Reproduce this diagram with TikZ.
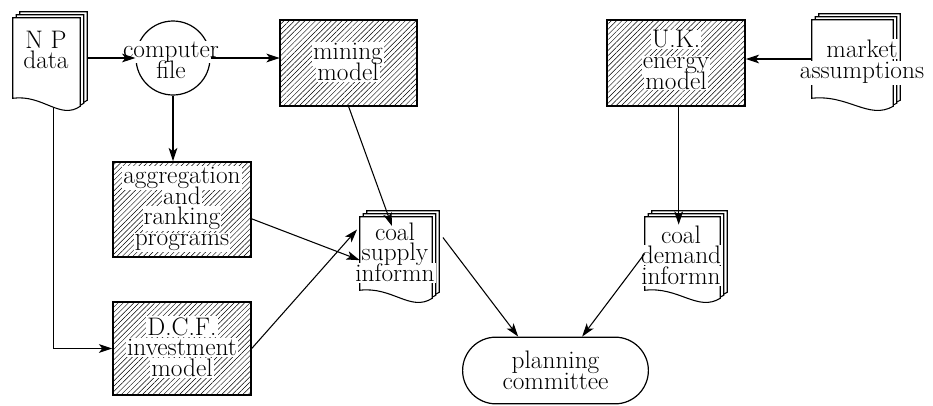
\documentclass[tikz,border=0pt]{standalone}
\usepackage{fontspec}
\usetikzlibrary{arrows.meta,patterns.meta,shapes.misc,calc}

\setlength{\fboxsep}{0.8pt}
\setlength{\lineskiplimit}{-30pt}
\newcommand{\wlbox}[1]{\colorbox{white}{\phantom{#1}}}
\newcommand{\wlplain}[1]{#1}
\newcommand{\wl}[1]{#1}
% text lines set on white strips: strips first, then the letters
\newcommand{\backedtext}[3]{%
  \global\let\wl\wlbox
  \node[inner sep=0pt] (#1bg) at #2 {#3};
  \global\let\wl\wlplain
  \node[inner sep=0pt] (#1) at #2 {#3};
}

% three sheets of a document, drawn round an empty frame node
\newcommand{\docstack}[1]{%
  \foreach \dx/\dy in {7/6,3.5/3,0/0}{%
    \draw[line width=0.8pt, fill=white, transform canvas={shift={(\dx,\dy)}}]
      (#1.south west) -- (#1.north west) -- (#1.north east) -- ($(#1.south east)+(0,8)$)
      .. controls ($(#1.south west)!0.7!(#1.south east)+(0,22)$) and ($(#1.south west)!0.45!(#1.south east)+(0,-4)$) .. (#1.south west) -- cycle;
  }%
}

\tikzset{
  every node/.style={font=\fontsize{19}{15.5}\selectfont, align=center},
  hatchbox/.style={draw, line width=1.1pt, inner sep=0pt,
    pattern={Lines[angle=45,distance=2.8pt,line width=0.35pt]}},
  docframe/.style={draw=none, inner sep=0pt},
  flowarrow/.style={line width=0.8pt, -{Stealth[length=10pt,width=6.5pt,inset=2.5pt]}}
}

\begin{document}
\begin{tikzpicture}[x=0.75pt,y=0.75pt,yscale=-1,xscale=1]
\useasboundingbox (0,0) rectangle (933,405);

% hatched program boxes
\node[hatchbox, minimum width=102.75pt, minimum height=64.5pt] (mining) at (348.5,63) {};
\node[hatchbox, minimum width=103.5pt, minimum height=64.5pt] (uk) at (676,63) {};
\node[hatchbox, minimum width=103.5pt, minimum height=71.25pt] (aggr) at (182,209.5) {};
\node[hatchbox, minimum width=103.5pt, minimum height=69.75pt] (dcf) at (182,348.5) {};
\backedtext{miningtext}{(348,62)}{\wl{mining}\\\wl{model}}
\backedtext{uktext}{(676,60)}{\wl{U.K.}\\\wl{energy}\\\wl{model}}
\backedtext{aggrtext}{(182,209)}{\wl{aggregation}\\\wl{and}\\\wl{ranking}\\\wl{programs}}
\backedtext{dcftext}{(182,347)}{\wl{D.C.F.}\\\wl{investment}\\\wl{model}}

% computer file and committee
\node[draw, circle, line width=0.9pt, minimum size=55.5pt] (cfile) at (173,58) {};
\backedtext{cfiletext}{(171,60)}{\wl{computer}\\\wl{file}}
\node[draw, rounded rectangle, line width=0.9pt, minimum width=146pt, minimum height=50pt] (plan) at (555.5,370.5) {planning\\committee};

% document frames
\node[docframe, minimum width=50.25pt, minimum height=60pt] (np) at (46.5,58) {};
\node[docframe, minimum width=54pt, minimum height=54.75pt] (supply) at (396,253.5) {};
\node[docframe, minimum width=56.25pt, minimum height=54.75pt] (demand) at (682.5,253.5) {};
\node[docframe, minimum width=60.75pt, minimum height=58.5pt] (market) at (852.5,59) {};

\draw[flowarrow, line width=0.7pt] (np.south) ++(7,0) |- (dcf.west);

\docstack{np}
\docstack{supply}
\docstack{demand}
\docstack{market}

\backedtext{nptext}{(46,50)}{\wl{N P}\\\wl{data}}
\backedtext{supplytext}{(395,252)}{\wl{coal}\\\wl{supply}\\\wl{informn}}
\backedtext{demandtext}{(681,255)}{\wl{coal}\\\wl{demand}\\\wl{informn}}
\backedtext{markettext}{(862,62)}{\wl{market}\\\wl{assumptions}}

% connectors
\draw[flowarrow] ([xshift=6pt]np.east |- cfile.west) -- (cfile.west);
\draw[flowarrow] (cfile.east) -- (mining.west |- cfile.east);
\draw[flowarrow] (cfile.south) -- (cfile.south |- aggr.north);
\draw[flowarrow] (mining.south) -- ([xshift=-3pt,yshift=7pt]supply.north);
\draw[flowarrow] ([yshift=7pt]aggr.east) -- ([yshift=5pt]supply.west);
\draw[flowarrow] (dcf.east) -- ([xshift=-2pt,yshift=-18pt]supply.west);
\draw[flowarrow] ([xshift=8pt,yshift=-12pt]supply.east) -- ([xshift=-28pt]plan.north);
\draw[flowarrow] (demand.west) -- ([xshift=20pt]plan.north);
\draw[flowarrow] ([xshift=2pt]uk.south) -- ([xshift=2pt,yshift=6pt]uk.south |- demand.north);
\draw[flowarrow] (market.west) -- (uk.east |- market.west);

\end{tikzpicture}
\end{document}
